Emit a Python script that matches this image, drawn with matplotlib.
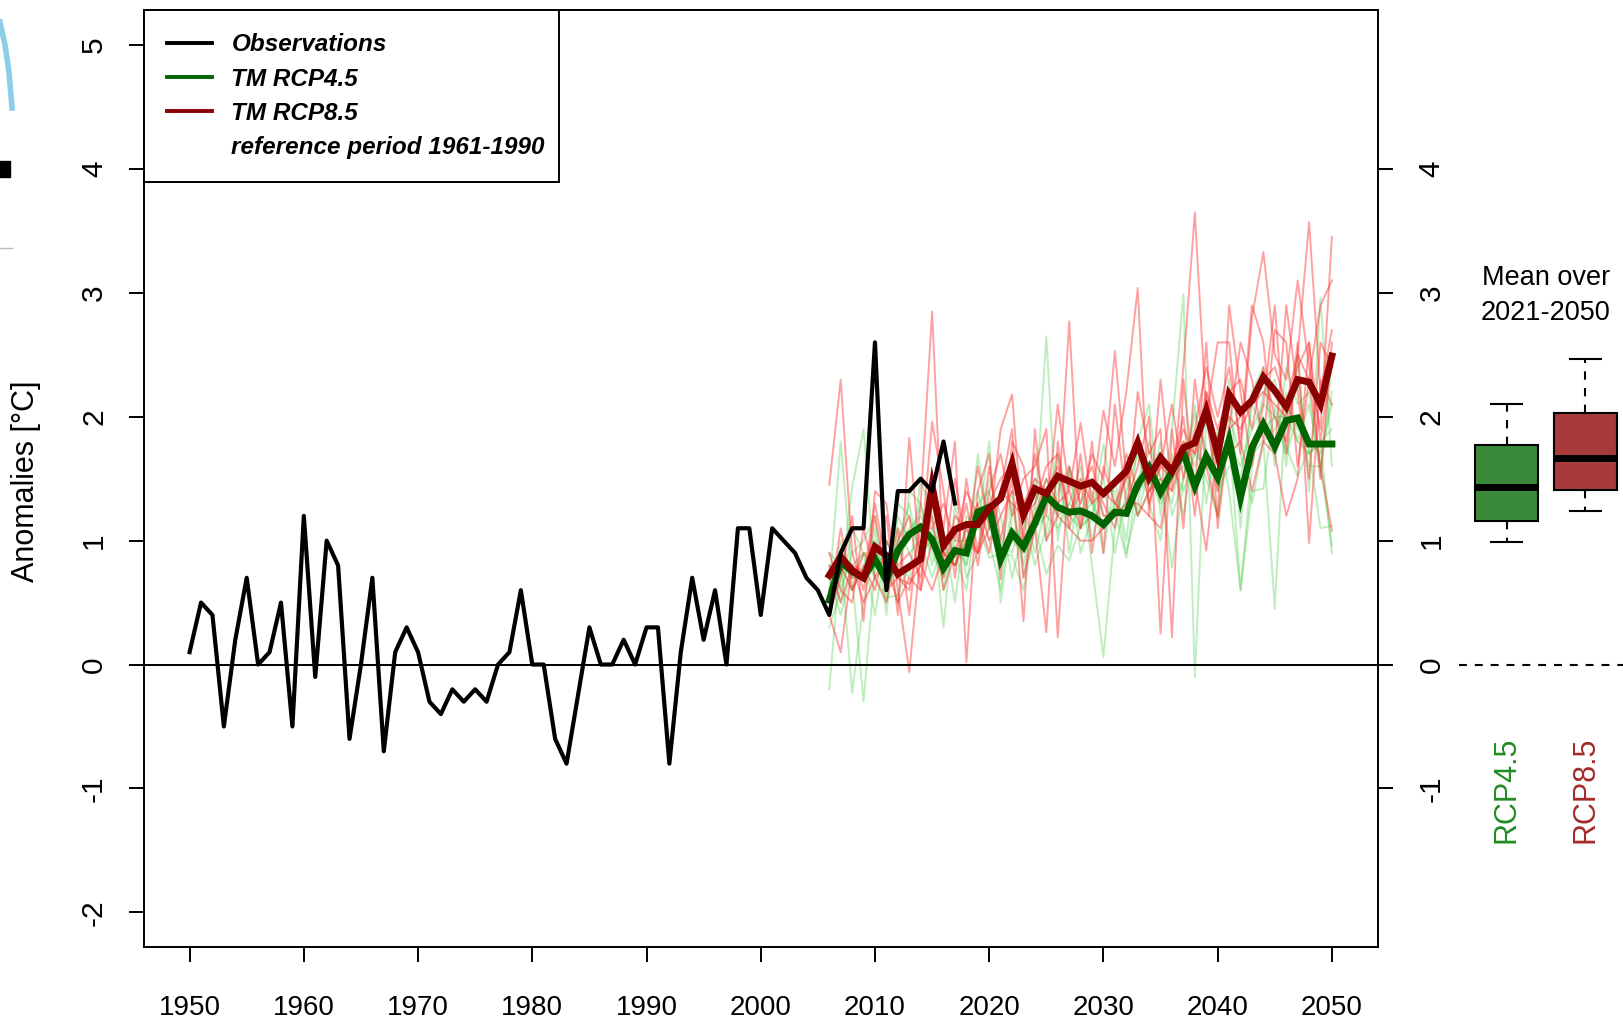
import matplotlib
matplotlib.use("Agg")
import matplotlib.pyplot as plt
from matplotlib.lines import Line2D
from matplotlib.patches import Rectangle

plt.rcParams['font.family'] = ['Liberation Sans', 'DejaVu Sans']
plt.rcParams['axes.unicode_minus'] = False

# observed anomalies (reference period 1961-1990)
obs_years = list(range(1950, 2018))
obs = [0.1, 0.5, 0.4, -0.5, 0.2, 0.7, 0.0, 0.1, 0.5, -0.5,
       1.2, -0.1, 1.0, 0.8, -0.6, 0.0, 0.7, -0.7, 0.1, 0.3,
       0.1, -0.3, -0.4, -0.2, -0.3, -0.2, -0.3, 0.0, 0.1, 0.6,
       0.0, 0.0, -0.6, -0.8, -0.25, 0.3, 0.0, 0.0, 0.2, 0.0,
       0.3, 0.3, -0.8, 0.1, 0.7, 0.2, 0.6, 0.0, 1.1, 1.1,
       0.4, 1.1, 1.0, 0.9, 0.7, 0.6, 0.4, 0.9, 1.1, 1.1,
       2.6, 0.6, 1.4, 1.4, 1.5, 1.4, 1.8, 1.3]

# model years 2006-2050
mod_years = list(range(2006, 2051))

# ensemble means
rcp45_mean = [0.52, 0.83, 0.75, 0.70, 0.85, 0.68, 0.92, 1.05, 1.11, 1.01,
              0.78, 0.92, 0.90, 1.23, 1.27, 0.85, 1.06, 0.95, 1.14, 1.36,
              1.27, 1.23, 1.24, 1.20, 1.13, 1.23, 1.22, 1.45, 1.59, 1.39,
              1.56, 1.71, 1.44, 1.68, 1.51, 1.81, 1.35, 1.75, 1.94, 1.76,
              1.97, 1.99, 1.78, 1.78, 1.78]
rcp85_mean = [0.72, 0.87, 0.76, 0.70, 0.95, 0.88, 0.73, 0.79, 0.85, 1.44,
              0.96, 1.09, 1.13, 1.13, 1.26, 1.34, 1.62, 1.21, 1.42, 1.38,
              1.52, 1.48, 1.44, 1.47, 1.38, 1.47, 1.56, 1.79, 1.51, 1.67,
              1.56, 1.75, 1.79, 2.05, 1.70, 2.18, 2.04, 2.13, 2.32, 2.21,
              2.08, 2.30, 2.28, 2.10, 2.49]

# single members
rcp45_members = [
    [-0.20, 0.90, -0.23, 0.50, 1.10, 0.40, 1.30, 1.20, 0.90, 1.40, 0.60, 1.10, 0.80, 1.70, 1.10,
     0.90, 1.40, 0.70, 1.20, 2.65, 1.00, 1.60, 1.10, 1.40, 0.90, 1.50, 1.00, 1.80, 2.10, 1.20,
     1.90, 2.99, -0.10, 2.00, 1.60, 2.30, 1.10, 2.20, 2.40, 1.60, 2.40, 2.10, 2.20, 1.50, 2.45],
    [0.60, 1.80, 0.70, -0.30, 0.80, 0.90, 0.50, 1.40, 1.30, 0.80, 1.10, 0.50, 1.20, 1.10, 1.80,
     0.50, 1.20, 1.30, 0.90, 1.30, 1.70, 0.90, 1.50, 0.80, 0.06, 1.10, 1.60, 1.20, 1.40, 1.80,
     1.20, 1.50, 2.10, 1.30, 1.90, 1.40, 0.60, 1.60, 2.20, 2.30, 1.60, 2.50, 1.40, 2.96, 1.60],
    [0.80, 0.50, 1.10, 0.90, 0.40, 1.00, 0.80, 0.70, 1.50, 1.20, 0.30, 1.30, 0.70, 0.90, 1.50,
     1.20, 0.70, 1.10, 1.50, 1.00, 1.40, 1.60, 0.90, 1.20, 1.50, 0.90, 1.40, 1.70, 1.30, 1.00,
     1.70, 1.20, 1.80, 1.50, 1.20, 2.00, 1.70, 1.30, 1.80, 0.45, 2.20, 1.80, 2.10, 1.60, 0.96],
    [0.30, 0.60, 0.90, 1.00, 1.20, 0.50, 1.10, 0.90, 1.00, 0.70, 1.00, 0.80, 1.10, 1.40, 1.00,
     0.60, 1.30, 0.80, 1.30, 1.50, 1.20, 1.30, 1.60, 1.00, 1.40, 1.40, 0.90, 1.30, 1.80, 1.50,
     1.30, 1.80, 1.60, 2.00, 1.40, 1.60, 1.50, 2.10, 1.90, 2.00, 2.00, 2.30, 1.70, 1.80, 0.90],
    [0.70, 0.40, 0.80, 0.90, 0.90, 0.70, 1.00, 1.30, 0.80, 1.10, 0.90, 0.90, 0.60, 1.30, 1.40,
     1.00, 0.90, 1.20, 0.80, 1.10, 1.50, 1.10, 1.30, 1.50, 1.20, 1.20, 1.50, 1.20, 1.60, 1.40,
     1.60, 1.40, 1.70, 1.60, 1.80, 1.80, 1.60, 1.90, 2.10, 2.00, 1.70, 2.00, 1.60, 1.60, 2.20],
    [0.90, 0.80, 0.60, 0.80, 1.00, 0.60, 1.20, 1.00, 1.30, 0.90, 0.70, 1.00, 1.00, 1.20, 1.30,
     0.80, 1.00, 0.90, 1.10, 1.20, 1.10, 1.30, 1.20, 1.30, 1.10, 1.30, 1.20, 1.40, 1.50, 1.30,
     1.50, 1.60, 1.50, 1.70, 1.50, 1.70, 1.40, 1.70, 1.80, 1.90, 2.10, 1.90, 1.80, 1.70, 2.10],
    [0.50, 1.00, 0.70, 0.90, 0.70, 0.80, 0.90, 1.10, 1.20, 1.00, 0.90, 0.80, 1.00, 1.10, 1.20,
     0.90, 1.10, 1.00, 1.20, 1.40, 1.30, 1.20, 1.10, 1.20, 1.10, 1.20, 1.30, 1.50, 1.50, 1.40,
     1.50, 1.70, 1.40, 1.60, 1.50, 1.80, 1.30, 1.80, 1.90, 1.70, 2.00, 1.80, 1.70, 1.80, 1.90],
    [0.56, 0.64, 1.43, 1.90, 0.70, 0.54, 0.56, 0.80, 0.90, 1.00, 0.74, 0.96, 0.80, 1.14, 0.86,
     0.90, 0.88, 0.60, 1.12, 0.73, 0.96, 0.84, 1.12, 1.20, 1.78, 1.24, 0.86, 1.50, 1.72, 1.52,
     0.78, 1.49, 2.03, 1.74, 1.18, 1.88, 0.60, 1.40, 1.42, 2.08, 1.76, 1.52, 1.74, 1.10, 1.12],
]
rcp85_members = [
    [1.45, 2.30, 0.90, 0.60, 1.20, 0.70, 1.10, 0.40, 1.30, 2.85, 0.80, 1.50, 0.95, 1.60, 1.10,
     1.90, 2.18, 1.00, 1.70, 1.20, 2.10, 1.40, 1.95, 1.30, 2.05, 1.60, 2.20, 3.04, 1.20, 2.30,
     1.40, 2.40, 3.65, 2.00, 2.60, 2.60, 1.70, 2.80, 3.33, 2.50, 2.30, 3.10, 2.40, 1.90, 3.45],
    [0.40, 0.70, 1.20, 0.35, 1.40, 1.30, 0.60, -0.06, 0.90, 1.96, 1.40, 0.70, 1.50, 0.90, 1.60,
     1.00, 1.50, 0.35, 1.90, 1.00, 1.20, 2.77, 1.10, 1.80, 0.90, 2.10, 1.30, 1.60, 2.00, 0.25,
     1.90, 1.10, 2.30, 1.60, 1.20, 2.90, 2.20, 1.60, 2.10, 2.90, 1.70, 2.50, 3.57, 2.20, 2.70],
    [0.90, 0.60, 0.50, 1.10, 0.70, 0.50, 1.00, 1.20, 0.60, 1.50, 1.10, 1.80, 0.02, 1.40, 1.70,
     0.69, 1.80, 1.60, 1.10, 0.26, 1.80, 1.10, 1.70, 0.90, 1.60, 1.30, 1.20, 2.20, 1.70, 1.90,
     0.22, 2.30, 1.40, 2.60, 1.10, 1.90, 2.60, 2.30, 1.80, 2.70, 2.60, 1.60, 2.30, 2.90, 3.10],
    [0.50, 1.10, 0.60, 0.90, 0.80, 1.20, 0.40, 1.83, 0.80, 1.20, 0.60, 0.90, 1.30, 0.80, 1.40,
     1.70, 1.20, 1.50, 1.60, 1.90, 0.22, 1.60, 1.30, 1.70, 1.50, 2.53, 1.50, 1.80, 1.30, 1.60,
     2.10, 1.50, 1.90, 2.40, 2.00, 2.40, 1.80, 2.90, 2.60, 1.70, 2.90, 2.20, 1.50, 2.60, 2.40],
    [0.80, 0.50, 0.80, 0.50, 0.70, 0.90, 0.70, 0.60, 1.10, 1.10, 1.30, 1.00, 1.40, 1.20, 0.90,
     1.40, 1.30, 1.20, 1.30, 1.60, 1.70, 1.20, 1.40, 1.60, 1.20, 1.20, 1.70, 1.40, 1.60, 1.40,
     1.60, 2.00, 1.20, 2.20, 1.90, 2.20, 2.30, 1.90, 2.40, 2.00, 1.80, 2.60, 0.98, 2.30, 2.10],
    [0.60, 0.90, 0.70, 0.70, 1.30, 0.80, 0.50, 0.70, 0.60, 1.00, 0.70, 1.20, 1.10, 0.90, 1.30,
     1.50, 1.60, 1.00, 1.20, 1.50, 1.30, 1.40, 1.10, 1.50, 1.30, 1.10, 1.60, 1.20, 1.40, 1.50,
     1.40, 1.70, 1.50, 0.92, 1.80, 2.00, 1.90, 2.10, 2.30, 2.40, 2.10, 2.50, 2.30, 1.60, 1.08],
    [0.70, 0.80, 0.60, 0.80, 0.60, 1.00, 0.80, 0.90, 0.70, 1.30, 0.90, 0.80, 1.10, 1.30, 1.00,
     1.20, 1.40, 1.30, 1.50, 1.40, 1.60, 1.20, 1.50, 1.30, 1.40, 1.30, 1.50, 1.80, 1.40, 1.60,
     1.50, 1.80, 1.70, 2.00, 1.40, 1.90, 2.00, 2.10, 2.20, 2.10, 2.00, 2.40, 2.60, 1.80, 2.50],
    [0.40, 0.10, 0.80, 0.75, 0.90, 0.60, 0.70, 0.65, 0.80, 0.60, 0.90, 0.80, 1.00, 0.90, 1.10,
     1.40, 1.90, 0.70, 1.10, 1.40, 1.20, 1.10, 1.00, 1.00, 1.10, 1.20, 1.30, 1.30, 1.20, 1.10,
     1.60, 1.90, 1.70, 2.20, 1.70, 1.70, 1.80, 1.40, 1.80, 1.70, 1.20, 1.50, 2.60, 1.50, 2.60],
]

# boxplot of the 2021-2050 means
box_labels = ['RCP4.5', 'RCP8.5']
box_whislo = [0.99, 1.24]
box_q1 = [1.16, 1.41]
box_med = [1.43, 1.67]
box_q3 = [1.77, 2.03]
box_whishi = [2.10, 2.47]

legend_labels = ['Observations', 'TM RCP4.5', 'TM RCP8.5', 'reference period 1961-1990']

W, H = 1623, 1023
fig = plt.figure(figsize=(W / 100, H / 100), dpi=100)


def fx(px):
    return px / W


def fy(py):
    return 1 - py / H


ax_l, ax_r, ax_t, ax_b = 143.9, 1377.6, 10.4, 947.0
ax = fig.add_axes([fx(ax_l), fy(ax_b), fx(ax_r - ax_l), (ax_b - ax_t) / H])
ax.set_xlim(1946, 2054)
ax.set_ylim(-2.28, 5.28)

for m in rcp45_members:
    ax.plot(mod_years, m, color='#3ccb3c', alpha=0.33, lw=1.4)
for m in rcp85_members:
    ax.plot(mod_years, m, color='#ff3030', alpha=0.45, lw=1.4)

ax.axhline(0, color='black', lw=1.4, zorder=2)
ax.plot(mod_years, rcp45_mean, color='#006400', lw=5, solid_joinstyle='miter', zorder=3)
ax.plot(mod_years, rcp85_mean, color='#8b0000', lw=5, solid_joinstyle='miter', zorder=4)
ax.plot(obs_years, obs, color='black', lw=3, zorder=5)

for s in ax.spines.values():
    s.set_linewidth(1.4)

ax.set_xticks(range(1950, 2051, 10))
ax.set_yticks(range(-2, 6))
ax.tick_params(axis='both', length=10.8, width=1.4, direction='out')
ax.tick_params(axis='x', labelsize=20, pad=24)
ax.tick_params(axis='y', labelsize=21.5, pad=15, labelrotation=90)
for lab in ax.get_yticklabels():
    lab.set_va('center')

# right hand axis
ax2 = ax.twinx()
ax2.set_ylim(-2.28, 5.28)
ax2.set_yticks(range(-1, 5))
ax2.tick_params(axis='y', length=10.8, width=1.4, direction='out',
                labelsize=21.5, pad=18, labelrotation=90)
for lab in ax2.get_yticklabels():
    lab.set_va('center')
for s in ax2.spines.values():
    s.set_visible(False)

ax.text((26 - ax_l) / (ax_r - ax_l), (ax_b - 481) / (ax_b - ax_t),
        'Anomalies [°C]', transform=ax.transAxes, rotation=90,
        ha='center', va='center', fontsize=22)

handles = [Line2D([], [], color='black', lw=2.8),
           Line2D([], [], color='#006400', lw=2.8),
           Line2D([], [], color='#8b0000', lw=2.8),
           Line2D([], [], linestyle='none')]
leg = ax.legend(handles, legend_labels, loc='upper left',
                bbox_to_anchor=(0, 0, (559 - ax_l) / (ax_r - ax_l), 1), mode='expand',
                borderaxespad=0, fancybox=False, framealpha=1, edgecolor='black',
                prop=dict(family='Liberation Sans', weight='bold', style='italic', size=17.5),
                handlelength=1.85, handletextpad=0.8, labelspacing=0.46, borderpad=0.95)
leg.get_frame().set_linewidth(1.4)
leg.set_zorder(10)

# box plot panel
bx = fig.add_axes([fx(1459), fy(ax_b), fx(W - 1459), (ax_b - ax_t) / H])
bx.set_ylim(-2.28, 5.28)
bx.set_xlim(0.393, 2.48)
bx.axis('off')
bx.axhline(0, color='black', lw=1.5, ls=(0, (3.8, 3.8)))

stats = []
for i in range(len(box_labels)):
    stats.append(dict(label=box_labels[i], whislo=box_whislo[i], q1=box_q1[i],
                      med=box_med[i], q3=box_q3[i], whishi=box_whishi[i]))
bp = bx.bxp(stats, positions=[1, 2], widths=0.8, capwidths=0.4, patch_artist=True,
            showfliers=False, manage_ticks=False,
            boxprops=dict(edgecolor='black', linewidth=1.5),
            medianprops=dict(color='black', linewidth=5, solid_capstyle='butt'),
            whiskerprops=dict(color='black', linewidth=1.5, linestyle=(0, (4, 4))),
            capprops=dict(color='black', linewidth=1.5))
for patch, col in zip(bp['boxes'], ['#3a8a3a', '#a83a3a']):
    patch.set_facecolor(col)

bx.text(1.5, 3.12, 'Mean over', ha='center', va='center', fontsize=19.5, clip_on=False)
bx.text(1.5, 2.84, '2021-2050', ha='center', va='center', fontsize=19.5, clip_on=False)
for i, col in zip(range(len(box_labels)), ['#228b22', '#a52a2a']):
    bx.text(i + 1, -1.44, box_labels[i], rotation=90, rotation_mode='anchor',
            ha='left', va='center', fontsize=22, color=col, clip_on=False)

# bits of the page background visible at the left edge
fig.add_artist(Line2D([fx(0), fx(5), fx(9), fx(12)], [fy(22), fy(45), fy(72), fy(108)],
                      transform=fig.transFigure, color='#8ccde9', lw=4))
fig.add_artist(Rectangle((fx(0), fy(177)), fx(10), 16 / H, transform=fig.transFigure,
                         color='black'))
fig.add_artist(Line2D([fx(0), fx(12)], [fy(248), fy(248)], transform=fig.transFigure,
                      color='#bbbbbb', lw=1))

fig.savefig('out.png', dpi=100)
